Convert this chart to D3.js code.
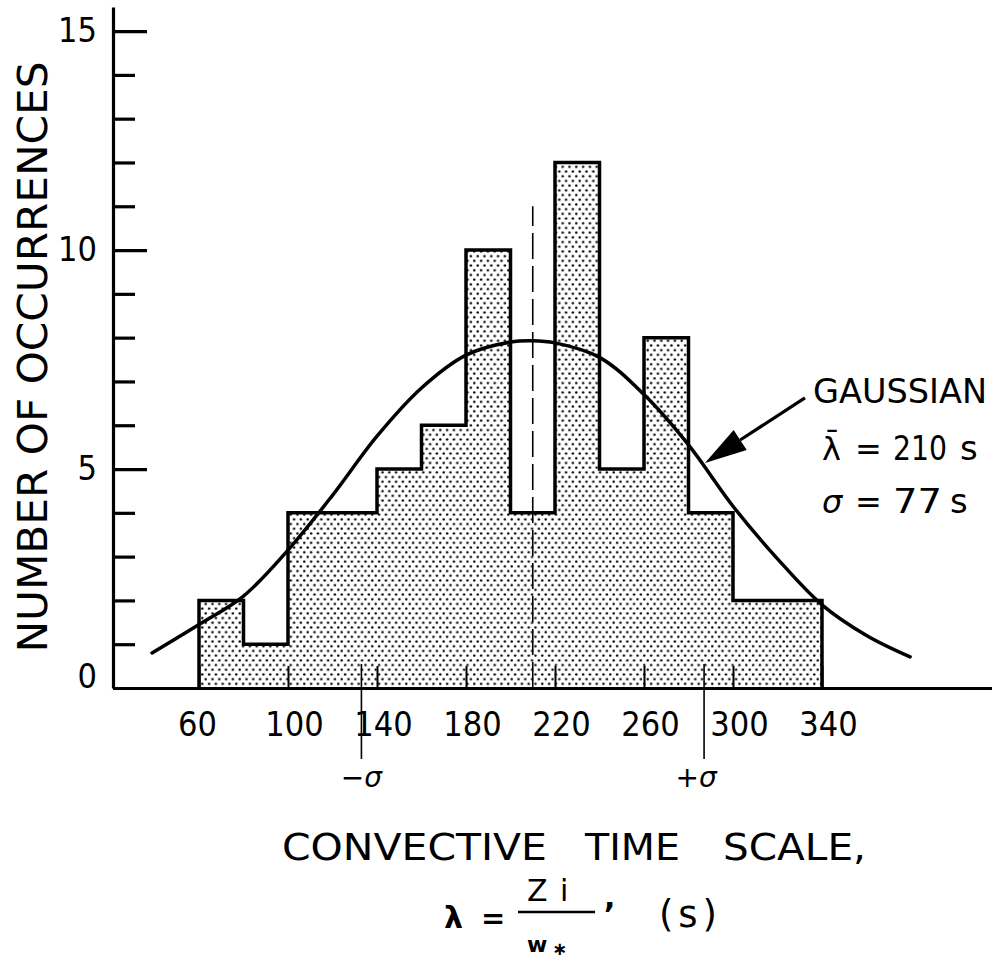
<!DOCTYPE html>
<html>
<head>
<meta charset="utf-8">
<script src="https://cdn.jsdelivr.net/npm/d3@7"></script>
<style>
	body { margin:0; background:#fff; }
	text { font-family:"DejaVu Sans", sans-serif; fill:#000; }
	.num { font-family:"DejaVu Sans Condensed", "DejaVu Sans", sans-serif; }
</style>
</head>
<body>
<script>
// histogram bins (s) and counts
var binEdges = [60,80,100,120,140,160,180,200,220,240,260,280,300,320,340];
var counts = [2,1,4,4,5,6,10,4,12,5,8,4,2,2];

var xTickValues = [60,100,140,180,220,260,300,340];
var yTickValues = [0,5,10,15];
var yMinorValues = [1,2,3,4,6,7,8,9,11,12,13,14];

// fitted gaussian
var gaussX = [38.9,60,80,100,120,140,160,180,200,210,220,240,260,280,300,320,340,360,379.6];
var gaussY = [0.80,1.45,2.1,3.15,4.4,5.75,6.85,7.6,7.9,7.93,7.88,7.55,6.7,5.55,4.15,2.95,1.9,1.2,0.71];
var gaussMean = 210;
var gaussSigma = 77;
var meanLineTop = 11;

var width = 992, height = 960;

var x = d3.scaleLinear().domain([60,340]).range([199,822]);
var y = d3.scaleLinear().domain([0,15.55]).range([688,7]);
var xAxisScale = x.copy().domain([x.invert(113), x.invert(width)]).range([113,width]);

var svg = d3.select("body").append("svg")
	.attr("width",width)
	.attr("height",height)
	.style("background","#fff");

var pat = svg.append("defs").append("pattern")
	.attr("id","dots")
	.attr("patternUnits","userSpaceOnUse")
	.attr("width",6.8)
	.attr("height",9.4);
pat.append("circle").attr("cx",1.7).attr("cy",2.35).attr("r",1.25).attr("fill","#000");
pat.append("circle").attr("cx",5.1).attr("cy",7.05).attr("r",1.25).attr("fill","#000");

// step outline of the histogram
var stepPts = [[binEdges[0],0]];
counts.forEach(function(c,i)
{
	stepPts.push([binEdges[i],c]);
	stepPts.push([binEdges[i+1],c]);
});
stepPts.push([binEdges[binEdges.length-1],0]);

var stepLine = d3.line()
	.x(function(d){ return x(d[0]); })
	.y(function(d){ return y(d[1]); });

svg.append("path")
	.attr("d",stepLine(stepPts) + "Z")
	.attr("fill","url(#dots)")
	.attr("stroke","none");

svg.append("path")
	.attr("d",stepLine(stepPts))
	.attr("fill","none")
	.attr("stroke","#000")
	.attr("stroke-width",3.5)
	.attr("stroke-linejoin","miter");

// mean line
svg.append("line")
	.attr("x1",x(gaussMean)).attr("x2",x(gaussMean))
	.attr("y1",y(0)).attr("y2",y(meanLineTop))
	.attr("stroke","#000")
	.attr("stroke-width",1.6)
	.attr("stroke-dasharray","26,7");

// +/- sigma markers
[-1,1].forEach(function(k)
{
	var xs = x(gaussMean + k*gaussSigma);
	svg.append("line")
		.attr("x1",xs).attr("x2",xs)
		.attr("y1",y(0.55)).attr("y2",y(-1.62))
		.attr("stroke","#000")
		.attr("stroke-width",1.6);
	svg.append("text")
		.text(k < 0 ? "\u2212\u03c3" : "+\u03c3")
		.attr("x",xs + (k < 0 ? 0 : -8))
		.attr("y",787)
		.attr("text-anchor","middle")
		.attr("font-size",28)
		.attr("font-style","italic");
});

// gaussian curve
var curve = d3.line()
	.x(function(d,i){ return x(gaussX[i]); })
	.y(function(d,i){ return y(gaussY[i]); })
	.curve(d3.curveCatmullRom.alpha(0.5));

svg.append("path")
	.attr("d",curve(gaussX))
	.attr("fill","none")
	.attr("stroke","#000")
	.attr("stroke-width",3.5)
	.attr("stroke-linecap","round");

// y axis: ticks point inwards, labels on the left
var yMajor = svg.append("g")
	.attr("transform","translate(113,0)")
	.call(d3.axisRight(y).tickValues(yTickValues).tickSize(34).tickSizeOuter(0).tickFormat(""));
yMajor.select(".domain").attr("stroke-width",3.2);
yMajor.selectAll(".tick line").attr("stroke-width",3.2);

var yMinor = svg.append("g")
	.attr("transform","translate(113,0)")
	.call(d3.axisRight(y).tickValues(yMinorValues).tickSize(22).tickFormat(""));
yMinor.select(".domain").remove();
yMinor.selectAll(".tick line").attr("stroke-width",3.2);

var yLabels = svg.append("g")
	.attr("transform","translate(113,0)")
	.call(d3.axisLeft(y).tickValues(yTickValues).tickSize(0).tickPadding(16));
yLabels.select(".domain").remove();
yLabels.selectAll("text")
	.classed("num",1)
	.attr("font-size",34)
	.attr("font-family",null)
	.attr("transform",function(d){ return d === 0 ? "translate(0,-11)" : null; });

// x axis
var xAx = svg.append("g")
	.attr("transform","translate(0," + y(0) + ")")
	.call(d3.axisBottom(xAxisScale).tickValues(xTickValues).tickSizeInner(-22).tickSizeOuter(0).tickPadding(24));
xAx.select(".domain").attr("stroke-width",3.2);
xAx.selectAll(".tick line").attr("stroke-width",2);
xAx.selectAll("text")
	.classed("num",1)
	.attr("font-size",34)
	.attr("font-family",null)
	.attr("dx",function(d){ return d === 60 ? -2 : 6; });

// axis titles
svg.append("text")
	.text("NUMBER OF OCCURRENCES")
	.attr("transform","translate(47,357) rotate(-90)")
	.attr("text-anchor","middle")
	.attr("font-size",40)
	.attr("textLength",591)
	.attr("lengthAdjust","spacingAndGlyphs");

[["CONVECTIVE",282,265],["TIME",585,95],["SCALE,",723,143]].forEach(function(w)
{
	svg.append("text")
		.text(w[0])
		.attr("x",w[1])
		.attr("y",860)
		.attr("font-size",38)
		.attr("textLength",w[2])
		.attr("lengthAdjust","spacingAndGlyphs");
});

var eq = svg.append("g");
eq.append("text").text("\u03bb").attr("x",444).attr("y",928).attr("font-size",30).attr("font-weight","bold");
eq.append("text").text("=").attr("x",481).attr("y",928).attr("font-size",29).attr("font-weight","bold");
eq.append("text").text("Z").attr("x",527).attr("y",901).attr("font-size",30);
eq.append("text").text("i").attr("x",560).attr("y",901).attr("font-size",30);
eq.append("line")
	.attr("x1",518).attr("x2",595)
	.attr("y1",912).attr("y2",912)
	.attr("stroke","#000")
	.attr("stroke-width",2.5);
eq.append("text").text("w").attr("x",527).attr("y",952).attr("font-size",22).attr("font-weight","bold");
eq.append("text").text("\u2217").attr("x",552).attr("y",955).attr("font-size",18).attr("font-weight","bold");
eq.append("text").text(",").attr("x",604).attr("y",908).attr("font-size",30).attr("font-weight","bold");
eq.append("text").text("(s)").attr("x",659).attr("y",927).attr("font-size",37)
	.attr("textLength",58).attr("lengthAdjust","spacing");

// gaussian annotation
var tip = [x(287.4), y(5.14)];
var tail = [tip[0] + 100, tip[1] - 65];
var ang = Math.atan2(tail[1]-tip[1], tail[0]-tip[0]);
var headLen = 42, headW = 12;
var base = [tip[0] + headLen*Math.cos(ang), tip[1] + headLen*Math.sin(ang)];

svg.append("line")
	.attr("x1",tail[0]).attr("y1",tail[1])
	.attr("x2",base[0]).attr("y2",base[1])
	.attr("stroke","#000")
	.attr("stroke-width",3.2);
svg.append("path")
	.attr("d","M" + tip[0] + "," + tip[1]
		+ "L" + (base[0] - headW*Math.sin(ang)) + "," + (base[1] + headW*Math.cos(ang))
		+ "L" + (base[0] + headW*Math.sin(ang)) + "," + (base[1] - headW*Math.cos(ang)) + "Z")
	.attr("fill","#000");

svg.append("text")
	.text("GAUSSIAN")
	.attr("x",813).attr("y",403)
	.attr("font-size",34)
	.attr("textLength",174)
	.attr("lengthAdjust","spacingAndGlyphs");

var leg = [
	["\u03bb\u0304", "210", 460, 54, 960, ""],
	["\u03c3", "77", 513, 49, 950, "italic"]
];
leg.forEach(function(r)
{
	svg.append("text").text(r[0]).attr("x",822).attr("y",r[2]).attr("font-size",32).attr("font-style",r[5] || null);
	svg.append("text").text("=").attr("x",855).attr("y",r[2]).attr("font-size",32);
	svg.append("text").text(r[1]).classed("num",1).attr("x",893).attr("y",r[2]).attr("font-size",34)
		.attr("textLength",r[3]).attr("lengthAdjust","spacingAndGlyphs");
	svg.append("text").text("s").attr("x",r[4]).attr("y",r[2]).attr("font-size",34);
});
</script>
</body>
</html>
